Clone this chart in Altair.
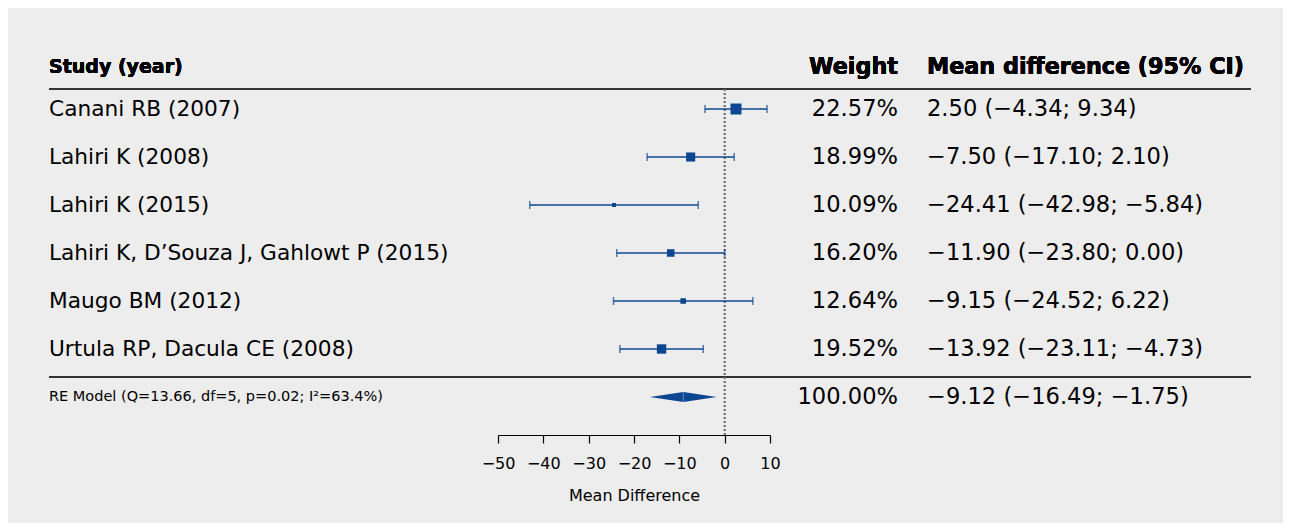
import altair as alt
import pandas as pd

# ---- data ----
studies = [
    "Canani RB (2007)",
    "Lahiri K (2008)",
    "Lahiri K (2015)",
    "Lahiri K, D\u2019Souza J, Gahlowt P (2015)",
    "Maugo BM (2012)",
    "Urtula RP, Dacula CE (2008)",
]
mean_diff = [2.50, -7.50, -24.41, -11.90, -9.15, -13.92]
ci_low = [-4.34, -17.10, -42.98, -23.80, -24.52, -23.11]
ci_high = [9.34, 2.10, -5.84, 0.00, 6.22, -4.73]
weights = [22.57, 18.99, 10.09, 16.20, 12.64, 19.52]

pooled_md = -9.12
pooled_low = -16.49
pooled_high = -1.75
pooled_weight = 100.00
re_label = "RE Model (Q=13.66, df=5, p=0.02; I\u00b2=63.4%)"

axis_ticks = [-50, -40, -30, -20, -10, 0, 10]

headers = ["Study (year)", "Weight", "Mean difference (95% CI)"]

# ---- helpers ----
MINUS = "\u2212"


def fmt(v):
    return f"{v:.2f}".replace("-", MINUS)


rows = list(range(1, len(studies) + 1))
df = pd.DataFrame({
    "study": studies,
    "md": mean_diff,
    "lo": ci_low,
    "hi": ci_high,
    "w": weights,
    "row": rows,
})
df["wtxt"] = [f"{w:.2f}%" for w in weights]
df["citxt"] = [f"{fmt(m)} ({fmt(l)}; {fmt(h)})" for m, l, h in zip(mean_diff, ci_low, ci_high)]

re_row = len(studies) + 1
half_h = 0.105  # diamond half height in row units
dia = pd.DataFrame({
    "x": [pooled_low, pooled_md, pooled_high],
    "y": [re_row, re_row - half_h, re_row],
    "y2": [re_row, re_row + half_h, re_row],
})
re_df = pd.DataFrame({
    "label": [re_label],
    "wtxt": [f"{pooled_weight:.2f}%"],
    "citxt": [f"{fmt(pooled_md)} ({fmt(pooled_low)}; {fmt(pooled_high)})"],
    "row": [re_row],
    "md": [pooled_md],
    "y": [re_row - half_h],
    "y2": [re_row + half_h],
})

FONT = "DejaVu Sans"
BLUE = "#0d4690"
LABEL_SIZE = 21.7
NUM_SIZE = 22.6

xscale = alt.Scale(domain=[axis_ticks[0], axis_ticks[-1]], nice=False, zero=False)
xaxis = alt.Axis(values=axis_ticks, title="Mean Difference", grid=False,
                 tickSize=8, labelFontSize=16, titleFontSize=16,
                 titleFontWeight="normal", labelPadding=12, titlePadding=16,
                 labelOverlap=False, labelFlush=False,
                 domainColor="#000", tickColor="#000", labelColor="#000",
                 titleColor="#000", domainWidth=1.2, tickWidth=1.2,
                 labelFont=FONT, titleFont=FONT, format="d")
yscale = alt.Scale(domain=[-0.4375, 7.791667], reverse=True, nice=False, zero=False)


def X(field):
    return alt.X(field, type="quantitative", scale=xscale, axis=xaxis)


def Y(field):
    return alt.Y(field, type="quantitative", scale=yscale, axis=None)


base = alt.Chart(df)

# header texts
h_study = alt.Chart(df).mark_text(text=headers[0], align="left", baseline="middle",
                                   font=FONT, fontSize=19, fontWeight="bold", color="#000").encode(
    x=alt.value(-449), y=alt.value(27))
h_weight = alt.Chart(df).mark_text(text=headers[1], align="right", baseline="middle",
                                    font=FONT, fontSize=22.3, fontWeight="bold", color="#000").encode(
    x=alt.value(400), y=alt.value(27))
h_ci = alt.Chart(df).mark_text(text=headers[2], align="left", baseline="middle",
                                font=FONT, fontSize=22.3, fontWeight="bold", color="#000").encode(
    x=alt.value(429), y=alt.value(27))

hline_top = alt.Chart(df).mark_rule(color="#333", strokeWidth=1.5).encode(
    x=alt.value(-449), x2=alt.value(753), y=alt.value(48.7))
hline_sep = alt.Chart(df).mark_rule(color="#333", strokeWidth=1.5).encode(
    x=alt.value(-449), x2=alt.value(753), y=alt.value(337))

zero_line = alt.Chart(df).mark_rule(color="#777", strokeWidth=1.5, strokeDash=[2, 2]).encode(
    x=alt.X(datum=0, type="quantitative", scale=xscale, axis=xaxis),
    y=alt.value(49), y2=alt.value(395))

ci_rule = base.mark_rule(color=BLUE, strokeWidth=1.5).encode(
    x=X("lo"), x2="hi", y=Y("row"))
cap_lo = base.mark_tick(color=BLUE, orient="vertical", size=8, thickness=1.5).encode(
    x=X("lo"), y=Y("row"))
cap_hi = base.mark_tick(color=BLUE, orient="vertical", size=8, thickness=1.5).encode(
    x=X("hi"), y=Y("row"))
squares = base.mark_square(color=BLUE, opacity=1, filled=True).encode(
    x=X("md"), y=Y("row"),
    size=alt.Size("w", type="quantitative", legend=None,
                  scale=alt.Scale(type="pow", exponent=2,
                                  domain=[min(weights), max(weights)], range=[16, 121])))

lbl = base.mark_text(align="left", baseline="middle", font=FONT, fontSize=LABEL_SIZE, color="#000").encode(
    x=alt.value(-449), y=Y("row"), text="study")
wt = base.mark_text(align="right", baseline="middle", font=FONT, fontSize=NUM_SIZE, color="#000").encode(
    x=alt.value(400), y=Y("row"), text="wtxt")
ci = base.mark_text(align="left", baseline="middle", font=FONT, fontSize=NUM_SIZE, color="#000").encode(
    x=alt.value(429), y=Y("row"), text="citxt")

diamond = alt.Chart(dia).mark_area(color=BLUE, orient="vertical", opacity=1).encode(
    x=X("x"), y=Y("y"), y2="y2")
dia_mid = alt.Chart(re_df).mark_rule(color="#5b86c4", strokeWidth=1).encode(
    x=X("md"), y=Y("y"), y2="y2")

re_lbl = alt.Chart(re_df).mark_text(align="left", baseline="middle", font=FONT, fontSize=14.5, color="#000").encode(
    x=alt.value(-449), y=Y("row"), text="label")
re_wt = alt.Chart(re_df).mark_text(align="right", baseline="middle", font=FONT, fontSize=NUM_SIZE, color="#000").encode(
    x=alt.value(400), y=Y("row"), text="wtxt")
re_ci = alt.Chart(re_df).mark_text(align="left", baseline="middle", font=FONT, fontSize=NUM_SIZE, color="#000").encode(
    x=alt.value(429), y=Y("row"), text="citxt")

chart = alt.layer(
    hline_top, hline_sep, zero_line, ci_rule, cap_lo, cap_hi, squares,
    diamond, dia_mid,
    h_study, h_weight, h_ci, lbl, wt, ci, re_lbl, re_wt, re_ci,
).properties(
    width=272, height=395,
    autosize=alt.AutoSizeParams(type="none"),
    padding={"left": 490, "top": 32, "right": 513, "bottom": 88},
    background="#ededed",
).configure_view(stroke=None)

chart.save("out.html", embed_options={"renderer": "svg", "actions": False})
